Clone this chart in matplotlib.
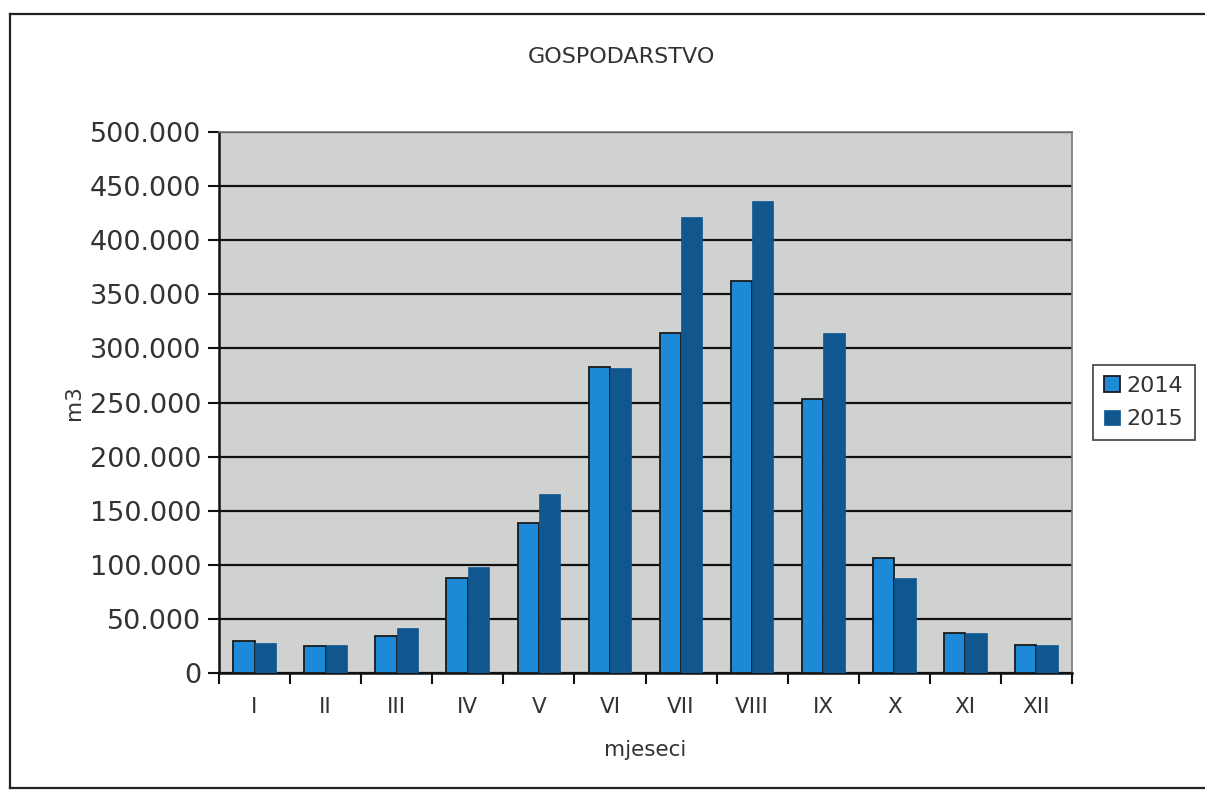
import numpy as np
import matplotlib.pyplot as plt
from matplotlib.lines import Line2D
from matplotlib.ticker import FuncFormatter, FixedLocator

# Data (m3 per month)
months = ['I', 'II', 'III', 'IV', 'V', 'VI', 'VII', 'VIII', 'IX', 'X', 'XI', 'XII']
values_2014 = [30000, 25000, 34000, 88000, 139000, 283000, 314000, 362000, 253000, 106000, 37000, 26000]
values_2015 = [28000, 26000, 42000, 98000, 165000, 282000, 421000, 436000, 314000, 88000, 37000, 26000]

plt.rcParams['font.family'] = ['DejaVu Sans']

fig = plt.figure(figsize=(12.05, 7.91), dpi=100)
fig.patch.set_facecolor('white')

# Outer chart frame: left, top and bottom edges (right edge runs off the page)
x0, x1 = 10 / 1205, 1.0
y0, y1 = 1 - 788 / 791, 1 - 14 / 791
for xs, ys in [([x0, x0], [y0, y1]), ([x0, x1], [y1, y1]), ([x0, x1], [y0, y0])]:
    fig.add_artist(Line2D(xs, ys, transform=fig.transFigure, color='#222222', linewidth=1.6))

ax = fig.add_axes([219 / 1205, 118 / 791, 853 / 1205, 541 / 791])
ax.set_facecolor('#d0d2d1')

x = np.arange(len(months))
w = 0.3
ax.bar(x - w / 2, values_2014, w, color='#1c8ad6', edgecolor='#1a1a1a', linewidth=1.3, label='2014', zorder=3)
ax.bar(x + w / 2, values_2015, w, color='#11578f', edgecolor='#11578f', linewidth=0.5, label='2015', zorder=3)

ax.set_xlim(-0.5, len(months) - 0.5)
ax.set_ylim(0, 500000)
ax.set_yticks(np.arange(0, 500001, 50000))
ax.yaxis.set_major_formatter(FuncFormatter(lambda v, p: '0' if v == 0 else f'{int(v):,}'.replace(',', '.')))
ax.grid(axis='y', color='#111111', linewidth=1.6, zorder=1)

ax.set_xticks(x)
ax.set_xticklabels(months, fontsize=15.5, color='#333333')
ax.xaxis.set_minor_locator(FixedLocator(np.arange(-0.5, len(months), 1)))
ax.tick_params(axis='x', which='major', length=0, pad=17)
ax.tick_params(axis='x', which='minor', length=8, width=1.5, color='#111111')
ax.tick_params(axis='y', length=8, width=1.5, color='#111111', labelsize=19.5, labelcolor='#333333', pad=5)

for side in ['left', 'bottom']:
    ax.spines[side].set_color('#111111')
    ax.spines[side].set_linewidth(1.8)
for side in ['top', 'right']:
    ax.spines[side].set_color('#777777')
    ax.spines[side].set_linewidth(1.2)

fig.text(621 / 1205, 1 - 57 / 791, 'GOSPODARSTVO', fontsize=16, color='#333333', ha='center', va='center')
ax.set_xlabel('mjeseci', fontsize=15.5, color='#333333', labelpad=17)
ax.set_ylabel('m3', fontsize=15.5, color='#333333', labelpad=4)

leg = ax.legend(loc='center left', bbox_to_anchor=(1.012, 0.5), fontsize=16, frameon=True,
                fancybox=False, edgecolor='#222222', handlelength=0.7, handleheight=0.7,
                handletextpad=0.3, borderpad=0.5, labelspacing=0.6)
leg.get_frame().set_linewidth(1.3)
for t in leg.get_texts():
    t.set_color('#333333')

plt.savefig('out.png', dpi=100)
